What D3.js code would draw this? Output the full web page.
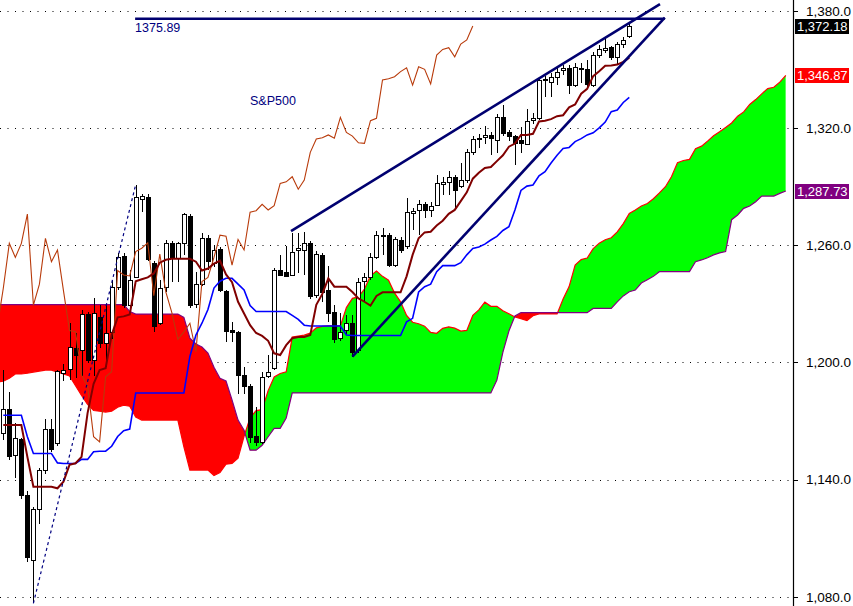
<!DOCTYPE html>
<html><head><meta charset="utf-8">
<script src="https://cdn.jsdelivr.net/npm/d3@7"></script>
<style>body{margin:0;background:#fff}svg{display:block;font-family:'Liberation Sans',Arial,sans-serif}</style>
</head><body><svg id="c" width="853" height="606"></svg>
<script>
// ---- data (bar index 0..104) ----
const opens=[1163.6,1175.9,1152.2,1160.5,1132,1098.7,1124.7,1144.8,1165.7,1158.5,
1194.6,1196.4,1207.5,1206.4,1224.6,1201.1,1223.3,1210.2,1215.3,1238.7,
1254.4,1229.5,1243.8,1283.7,1284.8,1250.7,1220,1238.4,1260.9,1253.2,
1260.9,1274.9,1229.7,1240,1263.5,1250.7,1257.8,1236.6,1216.5,1215.6,
1193.4,1187.8,1162.2,1159.3,1193,1196.9,1247.2,1246.3,1244.7,1257.2,
1257.8,1261.2,1234.4,1254.9,1237,1225.6,1212.3,1216.2,1220,1206.3,
1241.3,1243.5,1253.7,1265.1,1265.1,1249.8,1262.6,1259.2,1276.8,1277.6,
1280.9,1278,1280.5,1291.6,1292.4,1295.1,1290.2,1293.3,1307.5,1314.3,
1315.3,1316.4,1313.4,1325.7,1317.7,1315.8,1313.8,1312.1,1324.1,1325.3,
1344.6,1343.7,1346.2,1349.6,1350.5,1342.3,1350.5,1350,1342,1357.3,
1360.2,1361.3,1356.4,1362.9,1367];
const highs=[1196,1185,1168.7,1161,1134,1126,1146,1171,1171,1196,
1199,1220,1215,1227,1226,1232.7,1229.3,1229.3,1242,1256,
1256,1247,1291,1286.1,1286,1252,1242.1,1262.6,1262,1261.5,
1276.6,1276,1246,1266.3,1265,1260,1259,1237,1220.7,1216,
1197.5,1189,1177,1195,1203.7,1248.3,1254.9,1259.5,1266.3,1266,
1266.8,1262,1257,1256,1249.3,1229.3,1225.4,1224.2,1224.2,1243,
1245.5,1256,1267,1268.7,1266,1264,1264,1284,1279,1283,
1282,1282,1295.9,1295,1298,1296,1301.9,1309,1316,1317,
1321,1318,1327,1331.7,1319,1316.5,1320.3,1329.5,1327.4,1346,
1346.5,1348,1351,1352,1352,1353,1353.4,1354.8,1359,1362.4,
1365.9,1362,1364,1366.7,1373];
const lows=[1160,1150,1141,1130,1098,1076.6,1117.2,1143,1154,1157,
1190.5,1191,1192,1193,1199.6,1193,1207.1,1197.7,1212,1237,
1228,1228.5,1243,1277,1252,1215.6,1219,1236,1241.2,1241,
1254.9,1227.6,1227.8,1239,1247.2,1249,1236,1210.5,1210.5,1184,
1184,1158.5,1157,1158,1192,1196,1244,1244,1244,1245.5,
1244.7,1232.2,1233,1231,1220.7,1209.8,1211,1214,1202.9,1205,
1231,1242,1253,1254.9,1249,1249,1256,1258,1267.7,1265.1,
1273.7,1274.5,1280,1285.6,1285.6,1278.8,1289,1292,1306,1309.5,
1312,1306.1,1307.3,1316,1313.4,1301,1307,1311,1322,1324,
1336,1335.7,1342,1347,1337.3,1341,1342.8,1340.3,1341,1356,
1358.2,1355,1352.7,1361,1366];
const closes=[1175.9,1151.6,1161.1,1132,1100.1,1124.7,1144.8,1165.7,1155.7,1195.4,
1196,1207.8,1204.1,1224.6,1200.8,1225.4,1210,1215.1,1238.4,1254,
1229.3,1242.1,1284.8,1285.1,1253.2,1218.2,1237.9,1260.9,1253.7,1260.9,
1275.9,1229.3,1240,1263.5,1251.5,1257.5,1236.6,1216.2,1215.6,1193.4,
1187.8,1161.9,1159.3,1192.6,1195.2,1247,1244.7,1244.2,1256.7,1258.4,
1261.2,1234.1,1255.4,1236.1,1225.4,1211.8,1215.6,1220,1205.4,1241.3,
1243.5,1253.7,1265.1,1264.6,1249.8,1262.9,1257.5,1276.8,1277.6,1280.9,
1278,1280.2,1291.6,1292.4,1295,1288.6,1293.3,1307.5,1314.3,1315,
1316.4,1314.7,1325.4,1317.7,1315.8,1312.4,1312.1,1323.7,1324.9,1344.6,
1345.2,1346.2,1348.8,1350.8,1341.9,1351.3,1350,1342.5,1357.3,1360.2,
1361.1,1356.4,1362.9,1365,1372.18];
const tenkan=[1167.9,1167.9,1167.9,1167.9,1151.6,1136.3,1136.3,1136.3,1136.3,1135.5,
1138.9,1147.5,1148.3,1151.6,1174,1189,1196,1197,1214,1223,
1223.5,1224.5,1241.5,1242.5,1243.5,1245.5,1251,1252.5,1253,1253,
1253,1253,1251.5,1247,1248,1250.5,1252,1245,1241,1231,
1225,1219,1215,1213.5,1211,1204.6,1203.7,1208.8,1212.3,1213,
1213,1214,1229.4,1235,1243,1238.7,1238.7,1238.7,1236,1232.7,
1231,1229,1234,1235.8,1235.8,1235.8,1235.8,1244,1255,1263.5,
1266.5,1266.8,1270,1272.5,1276,1278,1282.5,1287,1294,1297,
1299.5,1300,1303,1306,1310.4,1312,1316.4,1316.4,1317,1323.3,
1323.7,1324.5,1326,1326.5,1330.5,1332,1337.5,1340,1346.5,1349,
1351.8,1352,1352.4,1353.8,1356];
const kijun=[1172.9,1172.9,1172.9,1172.9,1161.9,1153.3,1153.3,1153.3,1153.3,1148.5,
1148.2,1148.2,1148.2,1150.3,1150.3,1154.2,1154.5,1154.5,1157,1162,
1165,1165.8,1184.3,1184.3,1184.3,1184.3,1184.3,1184.3,1184.3,1184.3,
1184.3,1203,1214,1220,1227,1238,1241.5,1243,1243,1240,
1237,1229,1226,1226,1226,1226,1226,1226,1224,1222,
1219,1218.6,1218.6,1218.6,1218.6,1218.6,1218.6,1214,1213.7,1213.7,
1213.7,1213.7,1213.7,1213.7,1213.7,1213.7,1213.7,1220.7,1222.5,1236,
1238.7,1240,1246.4,1249.5,1249.5,1249.5,1251,1255,1258.3,1259,
1260.5,1262.6,1264.5,1267.5,1269.4,1278,1288,1290.2,1290.8,1295.5,
1297.6,1302,1306,1309.5,1310,1313,1314.5,1316.4,1317.5,1320,
1323,1328.3,1329.2,1333,1335.6];
// cloud spans, index -1 .. 130
const cloudFrom=-1;
const spanA=[1190,1190.3,1191.8,1194,1194,1194.4,1195,1195.5,1196,1196,
1195,1194,1193,1188,1183,1178.5,1175.3,1175,1174.5,1175,
1177,1178,1177.5,1172,1170.4,1170.4,1170.4,1170.4,1170.4,1170.4,
1170.4,1156.75,1144.8,1144.8,1144.8,1144.8,1142,1143.55,1147.85,1148.25,
1150.95,1162.15,1171.6,1175.25,1175.75,1185.5,1192.5,1194.25,1195.15,1212.9,
1213.4,1213.9,1214.9,1217.65,1218.4,1218.65,1218.65,1218.65,1228,1232.75,
1233.5,1237.5,1244.25,1246.75,1244,1242,1235.5,1231,1224,1220.5,
1219.75,1218.5,1215.3,1214.85,1217.4,1218.15,1217.5,1216,1216.3,1224,
1226.8,1230.8,1228.65,1228.65,1226.35,1224.85,1223.2,1222.35,1221.35,1223.85,
1224.75,1224.75,1224.75,1224.75,1232.35,1238.75,1249.75,1252.6,1253.4,1258.2,
1261,1262.75,1263.75,1266.75,1271,1276.15,1278,1280,1281.3,1283.75,
1286.75,1289.9,1295,1302.2,1303.3,1303.9,1309.4,1310.65,1313.25,1316,
1318,1320.25,1322.5,1326,1328.2,1332,1334.5,1337.4,1340.15,1340.8,
1343.4,1346.87];
const spanB=[1229.5,1229.5,1229.5,1229.5,1229.5,1229.5,1229.5,1229.5,1229.5,1229.5,
1229.5,1229.5,1229.5,1229.5,1229.5,1229.5,1229.5,1229.5,1229.5,1229.5,
1229.5,1229.5,1226,1224.7,1224.7,1224.7,1224.7,1224.7,1224.7,1224.7,
1224.7,1223,1212.4,1209.4,1207.8,1204.7,1197.5,1191.8,1190.4,1180.7,
1170.4,1165.2,1155,1155,1157.5,1161.9,1166.2,1166.2,1171.5,1184.3,
1184.3,1184.3,1184.3,1184.3,1184.3,1184.3,1184.3,1184.3,1184.3,1184.3,
1184.3,1184.3,1184.3,1184.3,1184.3,1184.3,1184.3,1184.3,1184.3,1184.3,
1184.3,1184.3,1184.3,1184.3,1184.3,1184.3,1184.3,1184.3,1184.3,1184.3,
1184.3,1184.3,1184.3,1190.9,1205.2,1216,1223.7,1225.4,1225.4,1225.4,
1225.4,1225.4,1225.4,1225.4,1225.4,1225.4,1225.4,1225.4,1225.4,1227.6,
1227.6,1227.6,1227.6,1230.9,1234,1236.1,1237,1240.6,1242.3,1244,
1246.4,1246.4,1246.4,1246.4,1246.4,1246.4,1251.5,1252.4,1253.5,1255,
1256,1256.7,1273,1275.4,1278.8,1280,1282.2,1285.1,1285.1,1285.1,
1286.5,1287.73];
const chikouShift=26;
const yTicks=[1080,1140,1200,1260,1320,1380];
const valueTags=[{v:1372.18,bg:"#000000"},{v:1346.87,bg:"#ff0000"},{v:1287.73,bg:"#800080"}];
const resistance=1375.89;
const trendLines=[
  {i0:21.9,v0:1375.89,i1:109.9,v1:1375.89},
  {i0:47.8,v0:1267.2,i1:109.1,v1:1383.4},
  {i0:58,v0:1202.9,i1:109.9,v1:1376.5}];
const dashedLine={i0:5,v0:1076.6,i1:22,v1:1291};

// ---- drawing ----
const W=853,H=606,axisX=793;
const svg=d3.select("#c");
const x=d3.scaleLinear().domain([0,104]).range([3.3,629.3]);
const y=d3.scaleLinear().domain([1080,1380]).range([596.7,10.7]);

const defs=svg.append("defs");
defs.append("clipPath").attr("id","plot").append("rect").attr("x",0).attr("y",0).attr("width",axisX).attr("height",H);

const cloud=spanA.map((a,k)=>({i:k+cloudFrom,a,b:spanB[k]}));
defs.append("clipPath").attr("id","aboveB").append("path")
  .attr("d",d3.area().x(d=>x(d.i)).y0(-10).y1(d=>y(d.b))(cloud));
defs.append("clipPath").attr("id","belowB").append("path")
  .attr("d",d3.area().x(d=>x(d.i)).y0(H+10).y1(d=>y(d.b))(cloud));

const g=svg.append("g").attr("clip-path","url(#plot)");

// grid
g.selectAll("line.grid").data(yTicks).join("line")
  .attr("x1",0).attr("x2",axisX-4).attr("y1",d=>Math.round(y(d))+0.5).attr("y2",d=>Math.round(y(d))+0.5)
  .attr("stroke","#000").attr("stroke-dasharray","1,6.5");

// cloud fill
const cloudArea=d3.area().x(d=>x(d.i)).y0(d=>y(d.a)).y1(d=>y(d.b));
g.append("path").attr("d",cloudArea(cloud)).attr("fill","#00ff00").attr("clip-path","url(#aboveB)");
g.append("path").attr("d",cloudArea(cloud)).attr("fill","#ff0000").attr("clip-path","url(#belowB)");
g.append("path").attr("d",d3.line().x(d=>x(d.i)).y(d=>y(d.a))(cloud)).attr("fill","none").attr("stroke","#ff0000").attr("stroke-width",1.2);
g.append("path").attr("d",d3.line().x(d=>x(d.i)).y(d=>y(d.b))(cloud)).attr("fill","none").attr("stroke","#800080").attr("stroke-width",1.2);

// candles
const bars=opens.map((o,i)=>({i,o,h:highs[i],l:lows[i],c:closes[i]}));
const cg=g.append("g").attr("shape-rendering","crispEdges");
cg.selectAll("line.wick").data(bars).join("line")
  .attr("x1",d=>Math.round(x(d.i))+0.5).attr("x2",d=>Math.round(x(d.i))+0.5)
  .attr("y1",d=>y(d.h)).attr("y2",d=>y(d.l)).attr("stroke","#000");
cg.selectAll("rect.body").data(bars).join("rect")
  .attr("x",d=>Math.round(x(d.i))-2+0.5).attr("width",4)
  .attr("y",d=>Math.round(Math.min(y(d.o),y(d.c)))+0.5)
  .attr("height",d=>Math.max(1,Math.round(Math.abs(y(d.o)-y(d.c)))))
  .attr("fill",d=>d.c>=d.o?"#fff":"#000").attr("stroke","#000");

// indicator lines
const line=d3.line().x(d=>x(d.i)).y(d=>y(d.v));
const chikou=closes.map((v,i)=>({i:i-chikouShift,v})).filter(d=>d.i>=-1);
g.append("path").attr("d",line(chikou)).attr("fill","none").attr("stroke","#b83a0a").attr("stroke-width",1.1);
g.append("path").attr("d",line(kijun.map((v,i)=>({i,v})))).attr("fill","none").attr("stroke","#0000ff").attr("stroke-width",1.6);
g.append("path").attr("d",line(tenkan.map((v,i)=>({i,v})))).attr("fill","none").attr("stroke","#800000").attr("stroke-width",2);

// trend lines
g.selectAll("line.trend").data(trendLines).join("line")
  .attr("x1",d=>x(d.i0)).attr("y1",d=>y(d.v0)).attr("x2",d=>x(d.i1)).attr("y2",d=>y(d.v1))
  .attr("stroke","#000070").attr("stroke-width",2.6);
g.append("line").attr("x1",x(dashedLine.i0)).attr("y1",y(dashedLine.v0)).attr("x2",x(dashedLine.i1)).attr("y2",y(dashedLine.v1))
  .attr("stroke","#000080").attr("stroke-width",1.2).attr("stroke-dasharray","3,3");

// text annotations
svg.append("text").attr("x",x(trendLines[0].i0)).attr("y",32).attr("font-size",12.5).attr("fill","#000080").text(resistance.toFixed(2));
svg.append("text").attr("x",250).attr("y",105).attr("font-size",12.5).attr("fill","#000080").text("S&P500");

// right axis
svg.append("line").attr("x1",axisX+0.5).attr("x2",axisX+0.5).attr("y1",0).attr("y2",H).attr("stroke","#000").attr("stroke-width",1.2);
const fmt=d3.format(",.1f");
svg.selectAll("line.tick").data(yTicks).join("line")
  .attr("x1",axisX).attr("x2",axisX+5).attr("y1",d=>Math.round(y(d))+0.5).attr("y2",d=>Math.round(y(d))+0.5).attr("stroke","#000");
svg.selectAll("text.tick").data(yTicks).join("text")
  .attr("x",806).attr("y",d=>y(d)).attr("dy","0.36em").attr("font-size",13.5).attr("fill","#000").text(d=>fmt(d));
const fmt2=d3.format(",.2f");
const tg=svg.selectAll("g.tag").data(valueTags).join("g");
tg.append("rect").attr("x",795).attr("width",54).attr("y",d=>Math.round(y(d.v))-7).attr("height",15).attr("fill",d=>d.bg);
tg.append("text").attr("x",797).attr("y",d=>y(d.v)).attr("dy","0.38em").attr("font-size",13).attr("fill","#fff").text(d=>fmt2(d.v));
</script></body></html>
